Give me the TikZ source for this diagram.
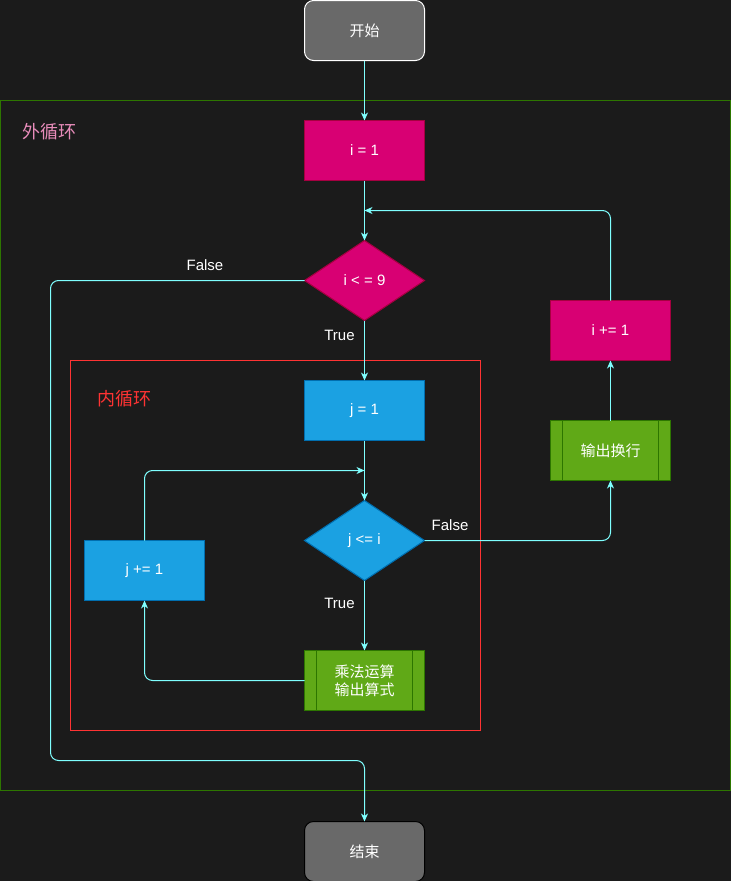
\documentclass[tikz,border=0pt]{standalone}
\usepackage{fontspec}
\setmainfont{Liberation Sans}
\newfontfamily\cjk{Noto Sans CJK SC}
\usetikzlibrary{shapes.geometric, arrows.meta, positioning, calc}

\definecolor{bgdark}{HTML}{1B1B1B}
\definecolor{termgray}{HTML}{696969}
\definecolor{pinkfill}{HTML}{D80073}
\definecolor{pinkline}{HTML}{A50040}
\definecolor{bluefill}{HTML}{1BA1E2}
\definecolor{blueline}{HTML}{006EAF}
\definecolor{greenfill}{HTML}{60A917}
\definecolor{greenline}{HTML}{2D7600}
\definecolor{flowcyan}{HTML}{7FFFFF}
\definecolor{outerpink}{HTML}{E88CBA}
\definecolor{innerred}{HTML}{FF3333}

\begin{document}
\begin{tikzpicture}[
    x=1pt, y=-1pt,
    box/.style={rectangle, draw, line width=1pt, outer sep=0pt, minimum width=120pt, minimum height=60pt, text=white, align=center, font=\cjk\fontsize{15}{18}\selectfont},
    terminal/.style={box, rounded corners=9pt, fill=termgray},
    pinkbox/.style={box, fill=pinkfill, draw=pinkline, font=\fontsize{15}{18}\selectfont},
    bluebox/.style={box, fill=bluefill, draw=blueline, font=\fontsize{15}{18}\selectfont},
    subproc/.style={box, fill=greenfill, draw=greenline},
    decision/.style={diamond, draw, line width=1pt, outer sep=0pt, aspect=1.5, inner sep=0pt, minimum width=120pt, minimum height=80pt, text=white, font=\fontsize{15}{18}\selectfont},
    flow/.style={-{Stealth[length=8pt, width=7pt, inset=2.5pt]}, draw=flowcyan, line width=1pt, rounded corners=8pt},
    lbl/.style={text=white, font=\fontsize{15}{18}\selectfont},
    looptitle/.style={font=\cjk\fontsize{18}{21}\selectfont}
]

% Background
\useasboundingbox (0,0) rectangle (731,881);
\fill[bgdark] (0,0) rectangle (731,881);

% Loop frames
\draw[greenline, line width=1pt] (0.5,100.5) rectangle (730.5,790.5);
\node[looptitle, text=outerpink] (outertitle) at (50,132) {外循环};
\draw[innerred, line width=1pt] (70.5,360.5) rectangle (480.5,730.5);
\node[looptitle, text=innerred] (innertitle) at (124,399) {内循环};

% Main column
\node[terminal, draw=white] (start) at (364.5,30.5) {开始};
\node[pinkbox, below=60pt of start] (iinit) {i = 1};
\node[decision, fill=pinkfill, draw=pinkline, below=60pt of iinit] (icheck) {i < = 9};
\node[bluebox, below=60pt of icheck] (jinit) {j = 1};
\node[decision, fill=bluefill, draw=blueline, below=60pt of jinit] (jcheck) {j <= i};
\node[subproc, below=70pt of jcheck] (mult) {乘法运算\\输出算式};
\node[terminal, draw=black, below=111pt of mult] (stop) {结束};

% Side nodes
\node[bluebox] (jinc) at (144.5,570.5) {j += 1};
\node[subproc] (newline) at (610.5,450.5) {输出换行};
\node[pinkbox] (iinc) at (610.5,330.5) {i += 1};

% Subprocess bars
\foreach \n in {mult, newline} {
    \draw[greenline, line width=1pt] ([xshift=12pt]\n.north west) -- ([xshift=12pt]\n.south west);
    \draw[greenline, line width=1pt] ([xshift=-12pt]\n.north east) -- ([xshift=-12pt]\n.south east);
}

% Loop back points
\coordinate (iback) at ($(iinit.south)!0.5!(icheck.north)$);
\coordinate (jback) at ($(jinit.south)!0.5!(jcheck.north)$);
\coordinate (exitcorner) at (50.5,760.5);

% Connectors
\draw[flow] (start) -- (iinit);
\draw[flow] (iinit) -- (icheck);
\draw[flow] (icheck) -- node[lbl, left=6pt, pos=0.25] {True} (jinit);
\draw[flow] (jinit) -- (jcheck);
\draw[flow] (jcheck) -- node[lbl, left=6pt, pos=0.33] {True} (mult);
\draw[flow] (mult.west) -| (jinc.south);
\draw[flow] (jinc.north) |- (jback);
\draw[flow] (jcheck.east) -| (newline.south);
\node[lbl] (jfalse) at (450,525) {False};
\draw[flow] (newline) -- (iinc);
\draw[flow] (iinc.north) |- (iback);
\draw[flow] (icheck.west) -| (exitcorner) -| (stop.north);
\node[lbl] (ifalse) at (205,265) {False};

\end{tikzpicture}
\end{document}
